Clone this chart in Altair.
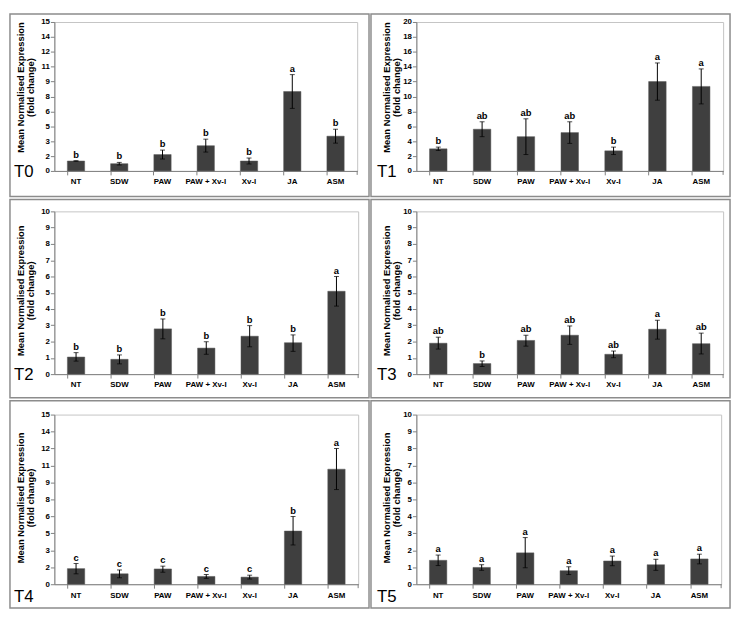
import altair as alt
import pandas as pd

categories = ["NT", "SDW", "PAW", "PAW + Xv-I", "Xv-I", "JA", "ASM"]
panel_names = ["T0", "T1", "T2", "T3", "T4", "T5"]

t0_mean = [1.0, 0.73, 1.65, 2.54, 1.0, 8.0, 3.5]
t0_hi = [1.03, 0.86, 2.1, 3.2, 1.3, 9.7, 4.2]
t0_lo = [0.97, 0.6, 1.2, 1.9, 0.7, 6.3, 2.8]
t0_letters = ["b", "b", "b", "b", "b", "a", "b"]

t1_mean = [2.97, 5.6, 4.6, 5.15, 2.7, 12.0, 11.35]
t1_hi = [3.2, 6.6, 7.0, 6.6, 3.2, 14.5, 13.7]
t1_lo = [2.75, 4.6, 2.2, 3.7, 2.2, 9.5, 9.0]
t1_letters = ["b", "ab", "ab", "ab", "b", "a", "a"]

t2_mean = [1.05, 0.91, 2.78, 1.6, 2.33, 1.93, 5.09]
t2_hi = [1.32, 1.18, 3.39, 1.99, 2.98, 2.41, 6.0]
t2_lo = [0.8, 0.63, 2.17, 1.22, 1.68, 1.4, 4.18]
t2_letters = ["b", "b", "b", "b", "b", "b", "a"]

t3_mean = [1.9, 0.65, 2.07, 2.39, 1.22, 2.76, 1.87]
t3_hi = [2.27, 0.81, 2.39, 2.96, 1.42, 3.31, 2.52]
t3_lo = [1.54, 0.47, 1.72, 1.83, 1.01, 2.15, 1.24]
t3_letters = ["ab", "b", "ab", "ab", "ab", "a", "ab"]

t4_mean = [1.38, 0.92, 1.35, 0.69, 0.63, 4.7, 10.17]
t4_hi = [1.83, 1.26, 1.6, 0.86, 0.8, 5.99, 12.0]
t4_lo = [0.92, 0.57, 1.06, 0.52, 0.46, 3.47, 8.37]
t4_letters = ["c", "c", "c", "c", "c", "b", "a"]

t5_mean = [1.41, 0.99, 1.85, 0.8, 1.37, 1.15, 1.49]
t5_hi = [1.72, 1.15, 2.75, 1.03, 1.66, 1.47, 1.77]
t5_lo = [1.1, 0.82, 0.97, 0.57, 1.09, 0.82, 1.2]
t5_letters = ["a", "a", "a", "a", "a", "a", "a"]

y_max = [15, 20, 10, 10, 15, 10]
ticks_15 = [0, 1.5, 3, 4.5, 6, 7.5, 9, 10.5, 12, 13.5, 15]
ticks_20 = [0, 2, 4, 6, 8, 10, 12, 14, 16, 18, 20]
ticks_10 = [0, 1, 2, 3, 4, 5, 6, 7, 8, 9, 10]
y_ticks = [ticks_15, ticks_20, ticks_10, ticks_10, ticks_15, ticks_10]

y_title = ["Mean Normalised Expression", "(fold change)"]

# layout: plot width, height, panel box (left, right, top, bottom), title x/y, label x/y
layout = [
    dict(W=307, H=151, box=(-45, 319, -8, 177), tx=-39, ty=66, lx=-41, ly=157),
    dict(W=311, H=151, box=(-46, 318, -8, 177), tx=-35, ty=66, lx=-40, ly=157),
    dict(W=308, H=165, box=(-45, 319, -12, 189), tx=-39, ty=80, lx=-41, ly=171),
    dict(W=311, H=165, box=(-46, 318, -12, 189), tx=-35, ty=80, lx=-40, ly=171),
    dict(W=308, H=172, box=(-45, 319, -14, 196), tx=-39, ty=84, lx=-41, ly=190),
    dict(W=309, H=172, box=(-46, 318, -14, 196), tx=-35, ty=84, lx=-40, ly=190),
]

means = [t0_mean, t1_mean, t2_mean, t3_mean, t4_mean, t5_mean]
his = [t0_hi, t1_hi, t2_hi, t3_hi, t4_hi, t5_hi]
los = [t0_lo, t1_lo, t2_lo, t3_lo, t4_lo, t5_lo]
letters_all = [t0_letters, t1_letters, t2_letters, t3_letters, t4_letters, t5_letters]

FONT = "Liberation Sans"
AXIS_COLOR = "#808080"


def make_panel(i):
    lay = layout[i]
    df = pd.DataFrame({
        "cat": categories,
        "mean": means[i],
        "hi": his[i],
        "lo": los[i],
        "letter": letters_all[i],
    })
    one = pd.DataFrame({"k": [0]})

    x_enc = alt.X(
        "cat:N", sort=categories,
        scale=alt.Scale(paddingInner=0.6, paddingOuter=0.3),
        axis=alt.Axis(title=None, labelAngle=0, bandPosition=0, tickSize=4,
                      labelPadding=3, labelFont=FONT, labelFontSize=8,
                      labelFontWeight="bold", labelColor="black",
                      domainColor=AXIS_COLOR, tickColor=AXIS_COLOR),
    )
    y_axis = alt.Axis(values=y_ticks[i], format=".0f", grid=False, tickSize=4,
                      labelPadding=1, labelFont=FONT, labelFontSize=8,
                      labelFontWeight="bold", labelColor="black",
                      domainColor=AXIS_COLOR, tickColor=AXIS_COLOR,
                      title=y_title, titleFont=FONT, titleFontSize=9.5,
                      titleFontWeight="bold", titleColor="black",
                      titleBaseline="top", titleAlign="center", titleAngle=270,
                      titleLineHeight=10,
                      titleX=lay["tx"], titleY=lay["ty"])
    y_scale = alt.Scale(domain=[0, y_max[i]], nice=False, zero=True)

    def Y(field):
        return alt.Y(field, scale=y_scale, axis=y_axis)

    base = alt.Chart(df)
    bars = base.mark_bar(color="#3f3f3f", stroke="#5a5a5a", strokeWidth=0.5).encode(
        x=x_enc, y=Y("mean:Q"))
    err = base.mark_rule(color="black", strokeWidth=1).encode(
        x=x_enc, y=Y("lo:Q"), y2="hi:Q")
    cap_hi = base.mark_tick(color="black", size=5, thickness=1).encode(
        x=x_enc, y=Y("hi:Q"))
    cap_lo = base.mark_tick(color="black", size=5, thickness=1).encode(
        x=x_enc, y=Y("lo:Q"))
    letters = base.mark_text(font=FONT, fontSize=9.5, fontWeight="bold",
                             baseline="alphabetic", dy=-3, color="black").encode(
        x=x_enc, y=Y("hi:Q"), text="letter:N")

    l, r, t, b = lay["box"]
    box = alt.Chart(one).mark_rect(fillOpacity=0, stroke="#8c8c8c", strokeWidth=1.5).encode(
        x=alt.value(l), x2=alt.value(r), y=alt.value(t), y2=alt.value(b))
    end_tick = alt.Chart(one).mark_rule(color=AXIS_COLOR).encode(
        x=alt.value(lay["W"]), y=alt.value(lay["H"]), y2=alt.value(lay["H"] + 4))
    label = alt.Chart(one).mark_text(font=FONT, fontSize=17, align="left",
                                     baseline="alphabetic", color="black").encode(
        x=alt.value(lay["lx"]), y=alt.value(lay["ly"]), text=alt.value(panel_names[i]))

    return alt.layer(box, bars, err, cap_hi, cap_lo, letters, end_tick, label).properties(
        width=lay["W"], height=lay["H"])


chart = alt.concat(*[make_panel(i) for i in range(6)], columns=2,
                   spacing={"row": 41, "column": 59},
                   bounds="flush", align="each").properties(
    padding=0, background="white"
).configure_view(stroke="#c4c4c4", strokeWidth=1)

chart.save("out.html", embed_options={"renderer": "svg", "actions": False})
